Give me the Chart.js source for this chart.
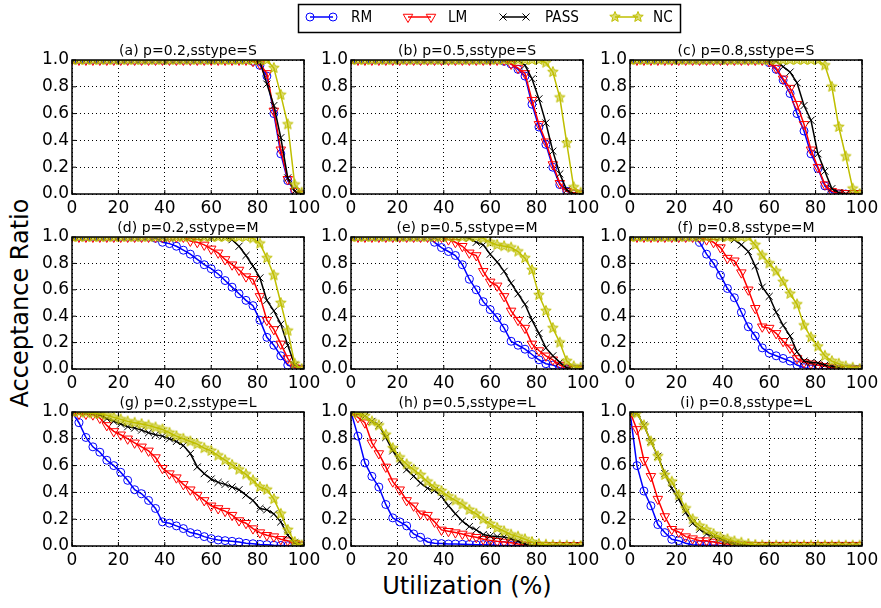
<!DOCTYPE html>
<html>
<head>
<meta charset="utf-8">
<script src="https://cdn.jsdelivr.net/npm/chart.js@4.4.0/dist/chart.umd.min.js"></script>
<style>
  body { margin: 0; background: #fff; width: 881px; height: 608px; position: relative; overflow: hidden; font-family: 'DejaVu Sans', sans-serif; }
  canvas { position: absolute; }
  .axis-label { position: absolute; font-size: 24px; color: #000; white-space: nowrap; }
  #xlabel { left: 467px; top: 586px; transform: translate(-50%, -50%); }
  #ylabel { left: 20px; top: 303px; transform: translate(-50%, -50%) rotate(-90deg); }
</style>
</head>
<body>
<canvas id="legend" width="881" height="40" style="left:0;top:0"></canvas>
<div class="axis-label" id="xlabel">Utilization (%)</div>
<div class="axis-label" id="ylabel">Acceptance Ratio</div>
<script>
// Utilization steps (x axis, %)
const utilization = [0, 3, 6, 9, 12, 15, 18, 21, 24, 27, 30, 33, 36, 39, 42, 45, 48, 51, 54, 57, 60, 63, 66, 69, 72, 75, 78, 81, 84, 87, 90, 93, 96, 99];
const seriesNames = ['RM', 'LM', 'PASS', 'NC'];
const panelTitles = [
  '(a) p=0.2,sstype=S', '(b) p=0.5,sstype=S', '(c) p=0.8,sstype=S',
  '(d) p=0.2,sstype=M', '(e) p=0.5,sstype=M', '(f) p=0.8,sstype=M',
  '(g) p=0.2,sstype=L', '(h) p=0.5,sstype=L', '(i) p=0.8,sstype=L'
];
const xTicks = [0, 20, 40, 60, 80, 100];
const yTicks = [0, 0.2, 0.4, 0.6, 0.8, 1.0];

// (a) p=0.2, sstype=S
const rmA   = [1,1,1,1,1,1,1,1,1,1,1,1,1,1,1,1,1,1,1,1,1,1,1,1,1,1, 0.99,0.96,0.88,0.6,0.3,0.1,0.02,0];
const lmA   = [1,1,1,1,1,1,1,1,1,1,1,1,1,1,1,1,1,1,1,1,1,1,1,1,1,1, 0.99,0.97,0.9,0.62,0.33,0.11,0.02,0];
const passA = [1,1,1,1,1,1,1,1,1,1,1,1,1,1,1,1,1,1,1,1,1,1,1,1,1,1,1, 0.99,0.82,0.66,0.42,0.12,0.02,0];
const ncA   = [1,1,1,1,1,1,1,1,1,1,1,1,1,1,1,1,1,1,1,1,1,1,1,1,1,1,1,1,1, 0.94,0.74,0.52,0.07,0.01];

// (b) p=0.5, sstype=S
const rmB   = [1,1,1,1,1,1,1,1,1,1,1,1,1,1,1,1,1,1,1,1,1,1, 0.99,0.97,0.93,0.88,0.67,0.5,0.37,0.2,0.07,0.02,0,0];
const lmB   = [1,1,1,1,1,1,1,1,1,1,1,1,1,1,1,1,1,1,1,1,1,1,1, 0.97,0.94,0.9,0.7,0.52,0.39,0.22,0.08,0.02,0.01,0];
const passB = [1,1,1,1,1,1,1,1,1,1,1,1,1,1,1,1,1,1,1,1,1,1,1,1,1, 0.96,0.86,0.71,0.53,0.32,0.15,0.03,0,0];
const ncB   = [1,1,1,1,1,1,1,1,1,1,1,1,1,1,1,1,1,1,1,1,1,1,1,1,1,1,1,1, 0.98,0.91,0.72,0.38,0.05,0.01];

// (c) p=0.8, sstype=S
const rmC   = [1,1,1,1,1,1,1,1,1,1,1,1,1,1,1,1,1,1,1,1, 0.98,0.93,0.85,0.75,0.6,0.47,0.3,0.19,0.06,0.01,0,0,0,0];
const lmC   = [1,1,1,1,1,1,1,1,1,1,1,1,1,1,1,1,1,1,1,1, 0.99,0.94,0.86,0.79,0.67,0.52,0.33,0.2,0.07,0.02,0.01,0.005,0.005,0.005];
const passC = [1,1,1,1,1,1,1,1,1,1,1,1,1,1,1,1,1,1,1,1,1, 0.99,0.95,0.91,0.83,0.66,0.55,0.3,0.17,0.04,0.01,0,0,0];
const ncC   = [1,1,1,1,1,1,1,1,1,1,1,1,1,1,1,1,1,1,1,1,1,1,1,1,1,1,1,1, 0.96,0.8,0.5,0.28,0.04,0];

// (d) p=0.2, sstype=M
const rmD   = [1,1,1,1,1,1,1,1,1,1,1,1, 0.99,0.96,0.95,0.93,0.9,0.87,0.83,0.79,0.76,0.72,0.67,0.62,0.57,0.52,0.48,0.37,0.24,0.18,0.1,0.03,0.01,0];
const lmD   = [1,1,1,1,1,1,1,1,1,1,1,1,1,1,1,1,1, 0.97,0.96,0.94,0.91,0.88,0.83,0.79,0.75,0.7,0.68,0.55,0.37,0.3,0.19,0.08,0.01,0];
const passD = [1,1,1,1,1,1,1,1,1,1,1,1,1,1,1,1,1,1,1,1,1,1,1, 0.98,0.93,0.86,0.78,0.69,0.52,0.44,0.34,0.18,0.03,0];
const ncD   = [1,1,1,1,1,1,1,1,1,1,1,1,1,1,1,1,1,1,1,1,1,1,1,1,1,1, 0.99,0.95,0.84,0.71,0.5,0.29,0.04,0];

// (e) p=0.5, sstype=M
const rmE   = [1,1,1,1,1,1,1,1,1,1,1,1, 0.96,0.92,0.89,0.86,0.79,0.68,0.6,0.51,0.45,0.39,0.31,0.21,0.18,0.15,0.11,0.07,0.04,0.03,0.01,0,0,0];
const lmE   = [1,1,1,1,1,1,1,1,1,1,1,1,1,1, 0.98,0.96,0.93,0.88,0.86,0.74,0.66,0.63,0.55,0.44,0.37,0.31,0.19,0.14,0.1,0.07,0.03,0.01,0,0];
const passE = [1,1,1,1,1,1,1,1,1,1,1,1,1,1,1,1,1, 0.99,0.96,0.94,0.87,0.81,0.74,0.65,0.57,0.49,0.37,0.27,0.16,0.1,0.05,0.01,0,0];
const ncE   = [1,1,1,1,1,1,1,1,1,1,1,1,1,1,1,1,1,1,1, 0.99,0.96,0.94,0.93,0.92,0.89,0.84,0.75,0.56,0.44,0.31,0.2,0.06,0.02,0.01];

// (f) p=0.8, sstype=M
const rmF   = [1,1,1,1,1,1,1,1,1,1, 0.96,0.87,0.8,0.71,0.61,0.54,0.43,0.32,0.25,0.16,0.12,0.1,0.08,0.06,0.03,0.01,0,0,0,0,0,0,0,0];
const lmF   = [1,1,1,1,1,1,1,1,1,1,1, 0.98,0.96,0.92,0.84,0.82,0.73,0.6,0.46,0.32,0.31,0.27,0.21,0.16,0.08,0.05,0.04,0.03,0.02,0.01,0,0,0,0];
const passF = [1,1,1,1,1,1,1,1,1,1,1,1,1,1,1, 0.98,0.94,0.89,0.78,0.62,0.55,0.43,0.33,0.25,0.13,0.06,0.05,0.045,0.03,0.02,0.01,0,0,0];
const ncF   = [1,1,1,1,1,1,1,1,1,1,1,1,1,1,1,1,1,1, 0.94,0.86,0.8,0.74,0.66,0.57,0.49,0.33,0.24,0.17,0.1,0.06,0.04,0.02,0.01,0];

// (g) p=0.2, sstype=L
const rmG   = [1.0,0.92,0.81,0.74,0.7,0.64,0.6,0.55,0.49,0.42,0.39,0.34,0.28,0.18,0.17,0.15,0.13,0.1,0.09,0.07,0.055,0.045,0.04,0.035,0.03,0.02,0.017,0.012,0.01,0.006,0.004,0.002,0,0];
const lmG   = [1.0,0.985,0.985,0.98,0.955,0.9,0.855,0.83,0.8,0.77,0.74,0.71,0.66,0.58,0.54,0.51,0.46,0.42,0.38,0.34,0.3,0.28,0.26,0.23,0.19,0.17,0.13,0.1,0.08,0.07,0.05,0.04,0.02,0.01];
const passG = [1.0,1.0,0.995,0.99,0.98,0.95,0.93,0.91,0.89,0.88,0.865,0.845,0.83,0.82,0.8,0.78,0.75,0.69,0.59,0.54,0.5,0.475,0.46,0.44,0.42,0.38,0.34,0.28,0.27,0.24,0.18,0.08,0.025,0.005];
const ncG   = [1.0,1.0,0.995,0.99,0.985,0.975,0.96,0.945,0.93,0.92,0.91,0.9,0.885,0.87,0.845,0.82,0.8,0.78,0.76,0.73,0.71,0.675,0.64,0.605,0.57,0.535,0.49,0.44,0.42,0.35,0.24,0.12,0.03,0.005];

// (h) p=0.5, sstype=L
const rmH   = [1.0,0.82,0.62,0.52,0.44,0.31,0.21,0.18,0.15,0.09,0.065,0.03,0.02,0.018,0.015,0.015,0.013,0.012,0.01,0.01,0.008,0.005,0.004,0.003,0.002,0,0,0,0,0,0,0,0,0];
const lmH   = [1.0,0.96,0.92,0.77,0.69,0.59,0.48,0.42,0.34,0.3,0.24,0.23,0.18,0.12,0.11,0.1,0.09,0.075,0.065,0.05,0.042,0.035,0.03,0.025,0.015,0.008,0.005,0.005,0.005,0.005,0.005,0.005,0.005,0.005];
const passH = [1.0,0.99,0.97,0.93,0.9,0.81,0.71,0.63,0.57,0.52,0.47,0.43,0.415,0.37,0.3,0.24,0.185,0.145,0.12,0.085,0.075,0.07,0.068,0.055,0.035,0.015,0.005,0,0,0,0,0,0,0];
const ncH   = [1.0,0.99,0.97,0.93,0.9,0.83,0.73,0.66,0.61,0.57,0.53,0.48,0.44,0.41,0.37,0.34,0.31,0.27,0.24,0.2,0.165,0.135,0.11,0.085,0.07,0.05,0.03,0.015,0.01,0.006,0.004,0.003,0.002,0];

// (i) p=0.8, sstype=L
const rmI   = [1.0,0.6,0.41,0.3,0.16,0.1,0.05,0.04,0.02,0.01,0.008,0.005,0.005,0.003,0.002,0,0,0,0,0,0,0,0,0,0,0,0,0,0,0,0,0,0,0];
const lmI   = [1.0,0.87,0.64,0.52,0.35,0.22,0.125,0.105,0.07,0.055,0.04,0.04,0.03,0.02,0.015,0.01,0.008,0.006,0.006,0.006,0.006,0.006,0.006,0.006,0.006,0.006,0.006,0.006,0.006,0.006,0.006,0.006,0.006,0.006];
const passI = [1.0,0.99,0.9,0.78,0.67,0.54,0.43,0.35,0.25,0.17,0.125,0.09,0.07,0.055,0.03,0.015,0.01,0.005,0,0,0,0,0,0,0,0,0,0,0,0,0,0,0,0];
const ncI   = [1.0,0.99,0.9,0.78,0.67,0.53,0.48,0.38,0.28,0.2,0.15,0.12,0.09,0.065,0.05,0.035,0.025,0.015,0.008,0.005,0.003,0.003,0.003,0.003,0.003,0.003,0.003,0.003,0.003,0.003,0.003,0.003,0.003,0.003];

const panelData = [
  [rmA, lmA, passA, ncA], [rmB, lmB, passB, ncB], [rmC, lmC, passC, ncC],
  [rmD, lmD, passD, ncD], [rmE, lmE, passE, ncE], [rmF, lmF, passF, ncF],
  [rmG, lmG, passG, ncG], [rmH, lmH, passH, ncH], [rmI, lmI, passI, ncI]
];

// Layout of the 3x3 grid (plot area positions in page pixels)
const colLeft = [72, 351, 630];
const rowTop = [60, 237, 412];
const rowHeight = [134, 132, 134];
const plotWidth = 232;
const padLeft = 55, padTop = 20, padRight = 22, padBottom = 28;

const FONT = "'DejaVu Sans', sans-serif";
const YELLOW = '#bfbf00';

// 5-point star marker drawn into a small canvas
function makeStar(r) {
  const c = document.createElement('canvas');
  const s = Math.ceil(r * 2 + 3);
  c.width = s; c.height = s;
  const g = c.getContext('2d');
  g.beginPath();
  for (let i = 0; i < 10; i++) {
    const a = -Math.PI / 2 + i * Math.PI / 5;
    const rr = i % 2 ? r * 0.45 : r;
    g.lineTo(s / 2 + rr * Math.cos(a), s / 2 + rr * Math.sin(a));
  }
  g.closePath();
  g.fillStyle = 'rgba(191, 191, 0, 0.55)';
  g.fill();
  g.strokeStyle = YELLOW;
  g.lineWidth = 1;
  g.stroke();
  return c;
}
const starImg = makeStar(5.5);

const seriesStyle = [
  { color: '#0000ff', pointStyle: 'circle', radius: 4, rotation: 0 },
  { color: '#ff0000', pointStyle: 'triangle', radius: 5.5, rotation: 180 },
  { color: '#000000', pointStyle: 'crossRot', radius: 5, rotation: 0 },
  { color: YELLOW, pointStyle: starImg, radius: 5, rotation: 0 }
];

// Axes frame + inward tick marks
const framePlugin = {
  id: 'frame',
  afterDraw(chart) {
    const { ctx, chartArea: a, scales } = chart;
    ctx.save();
    ctx.strokeStyle = '#000';
    ctx.lineWidth = 1;
    ctx.beginPath();
    xTicks.forEach(v => {
      const px = scales.x.getPixelForValue(v);
      ctx.moveTo(px, a.bottom); ctx.lineTo(px, a.bottom - 4);
      ctx.moveTo(px, a.top); ctx.lineTo(px, a.top + 4);
    });
    yTicks.forEach(v => {
      const py = scales.y.getPixelForValue(v);
      ctx.moveTo(a.left, py); ctx.lineTo(a.left + 4, py);
      ctx.moveTo(a.right, py); ctx.lineTo(a.right - 4, py);
    });
    ctx.stroke();
    ctx.lineWidth = 1.5;
    ctx.strokeRect(a.left, a.top, a.right - a.left, a.bottom - a.top);
    ctx.restore();
  }
};

panelData.forEach(function(series, i) {
  const col = i % 3, row = Math.floor(i / 3);
  const canvas = document.createElement('canvas');
  canvas.width = padLeft + plotWidth + padRight;
  canvas.height = padTop + rowHeight[row] + padBottom;
  canvas.style.left = (colLeft[col] - padLeft) + 'px';
  canvas.style.top = (rowTop[row] - padTop) + 'px';
  document.body.appendChild(canvas);

  new Chart(canvas.getContext('2d'), {
    type: 'line',
    data: {
      datasets: series.map(function(values, k) {
        const st = seriesStyle[k];
        return {
          label: seriesNames[k],
          data: utilization.map((x, j) => ({ x: x, y: values[j] })),
          borderColor: st.color,
          borderWidth: 1.5,
          backgroundColor: 'rgba(0,0,0,0)',
          pointStyle: st.pointStyle,
          pointRadius: st.radius,
          pointRotation: st.rotation,
          pointBorderColor: st.color,
          pointBackgroundColor: 'rgba(0,0,0,0)',
          pointBorderWidth: 1,
          tension: 0,
          clip: 0,
          order: 3 - k
        };
      })
    },
    options: {
      responsive: false,
      animation: false,
      devicePixelRatio: 1,
      layout: { padding: { top: 0, right: padRight, bottom: 0, left: 0 } },
      plugins: {
        legend: { display: false },
        tooltip: { enabled: false },
        title: {
          display: true,
          fullSize: false, // centre over the plot area, not the whole canvas
          text: panelTitles[i],
          color: '#000',
          font: { family: FONT, size: 14, weight: 'normal', lineHeight: 17 / 14 },
          padding: { top: 3, bottom: 0 }
        }
      },
      scales: {
        x: {
          type: 'linear',
          min: 0,
          max: 100,
          afterFit: function(scale) { scale.height = padBottom; },
          afterBuildTicks: function(scale) { scale.ticks = xTicks.map(v => ({ value: v })); },
          ticks: { color: '#000', font: { family: FONT, size: 17 }, padding: 4, maxRotation: 0, autoSkip: false },
          grid: { color: '#000', lineWidth: 1, drawTicks: false },
          border: { display: false, dash: [1, 3] }
        },
        y: {
          min: 0,
          max: 1,
          afterFit: function(scale) { scale.width = padLeft; },
          afterBuildTicks: function(scale) { scale.ticks = yTicks.map(v => ({ value: v })); },
          ticks: {
            color: '#000', font: { family: FONT, size: 17 }, padding: 3, autoSkip: false,
            callback: function(value) { return Number(value).toFixed(1); }
          },
          grid: { color: '#000', lineWidth: 1, drawTicks: false },
          border: { display: false, dash: [1, 3] }
        }
      }
    },
    plugins: [framePlugin]
  });
});

// Legend (shared by all panels)
const lg = document.getElementById('legend').getContext('2d');
lg.lineWidth = 1.5;
lg.strokeStyle = '#000';
lg.strokeRect(298.5, 4.5, 382, 28);

const legendItems = [
  { x1: 310, x2: 333, tx: 351 },
  { x1: 408, x2: 431, tx: 448 },
  { x1: 503, x2: 526, tx: 545 },
  { x1: 615, x2: 638, tx: 653 }
];
const ly = 17;

function drawMarker(ctx, k, x, y) {
  const st = seriesStyle[k];
  ctx.save();
  ctx.strokeStyle = st.color;
  ctx.lineWidth = 1;
  ctx.beginPath();
  if (k === 0) {
    ctx.arc(x, y, st.radius, 0, Math.PI * 2);
  } else if (k === 1) {
    const r = st.radius;
    ctx.moveTo(x, y + r);
    ctx.lineTo(x - r * Math.sin(Math.PI / 3), y - r / 2);
    ctx.lineTo(x + r * Math.sin(Math.PI / 3), y - r / 2);
    ctx.closePath();
  } else if (k === 2) {
    const d = st.radius * Math.SQRT1_2;
    ctx.moveTo(x - d, y - d); ctx.lineTo(x + d, y + d);
    ctx.moveTo(x + d, y - d); ctx.lineTo(x - d, y + d);
  } else {
    ctx.drawImage(starImg, x - starImg.width / 2, y - starImg.height / 2);
  }
  ctx.stroke();
  ctx.restore();
}

legendItems.forEach(function(it, k) {
  lg.save();
  lg.strokeStyle = seriesStyle[k].color;
  lg.lineWidth = 1.5;
  lg.beginPath();
  lg.moveTo(it.x1, ly);
  lg.lineTo(it.x2, ly);
  lg.stroke();
  lg.restore();
  drawMarker(lg, k, it.x1, ly);
  drawMarker(lg, k, it.x2, ly);
  lg.save();
  lg.fillStyle = '#000';
  lg.font = "16px " + FONT;
  lg.textBaseline = 'middle';
  lg.translate(it.tx, ly + 1);
  lg.scale(0.85, 1);
  lg.fillText(seriesNames[k], 0, 0);
  lg.restore();
});
</script>
</body>
</html>
